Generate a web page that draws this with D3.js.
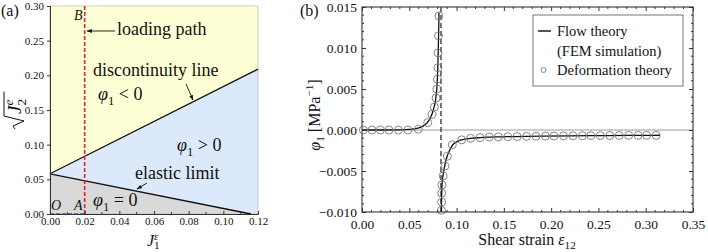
<!DOCTYPE html>
<html><head><meta charset="utf-8">
<script src="https://cdn.jsdelivr.net/npm/d3@7"></script>
<style>body{margin:0;background:#fff}svg{display:block}svg, svg text{font-family:"Liberation Serif","DejaVu Serif",serif !important;fill:#111}</style>
</head><body><svg id="c" width="708" height="252" font-family="Liberation Serif, DejaVu Serif, serif"></svg>
<script>
// ---------- data: panel (a) ----------
const aXTicks = [0, 0.02, 0.04, 0.06, 0.08, 0.10, 0.12];
const aYTicks = [0, 0.05, 0.10, 0.15, 0.20, 0.25, 0.30];
const aXDomain = [0, 0.12];
const aYDomain = [0, 0.30];
const discontinuityLine = [[0, 0.058], [0.12, 0.209]];
const elasticLimit = [[0, 0.058], [0.116, 0]];
const pathOA = [[0, 0], [0.02, 0]];
const pathAB = [[0.02, 0], [0.02, 0.30]];

// ---------- data: panel (b) ----------
const bXTicks = [0, 0.05, 0.10, 0.15, 0.20, 0.25, 0.30, 0.35];
const bYTicks = [-0.010, -0.005, 0, 0.005, 0.010, 0.015];
const bXDomain = [0, 0.35];
const bYDomain = [-0.010, 0.015];
const asymptoteStrain = 0.0835;
const flowUpper = [[0,0],[0.02,0],[0.04,0.00002],[0.05,0.00007],[0.055,0.00013],[0.06,0.00025],[0.065,0.0005],[0.069,0.0009],[0.072,0.0014],[0.0745,0.0021],[0.0765,0.0029],[0.078,0.0038],[0.079,0.0049],[0.0797,0.0062],[0.0802,0.0078],[0.0806,0.0096],[0.081,0.0117],[0.0814,0.0143]];
const flowLower = [[0.0840,-0.0100],[0.0841,-0.0088],[0.0843,-0.0077],[0.0846,-0.0067],[0.0856,-0.0056],[0.0874,-0.0044],[0.0900,-0.0032],[0.0930,-0.0024],[0.0960,-0.0018],[0.1000,-0.00145],[0.1054,-0.0012],[0.115,-0.00102],[0.125,-0.00093],[0.14,-0.00085],[0.16,-0.0008],[0.19,-0.00075],[0.22,-0.00071],[0.26,-0.00068],[0.30,-0.00065],[0.315,-0.00064]];
const deformation = [[0.0015,0],[0.0105,0],[0.0195,0],[0.0285,0],[0.0385,0],[0.0485,0],[0.0595,0.0001],[0.0695,0.0009],[0.0740,0.0019],[0.0765,0.0028],[0.0783,0.0039],[0.0792,0.0050],[0.0798,0.0062],[0.0802,0.0076],[0.0805,0.0094],[0.0809,0.0115],[0.0813,0.0139],
 [0.0840,-0.0098],[0.0842,-0.0088],[0.0842,-0.0077],[0.0845,-0.0067],[0.0858,-0.0056],[0.0877,-0.0044],[0.0902,-0.0032],[0.0955,-0.0018],[0.1054,-0.0012],[0.1149,-0.00102],[0.1248,-0.00093],[0.1346,-0.00086],[0.1441,-0.00084],[0.1541,-0.00082],[0.164,-0.0008],[0.174,-0.00078],[0.184,-0.00076],[0.194,-0.00074],[0.203,-0.00073],[0.213,-0.00072],[0.223,-0.00071],[0.233,-0.0007],[0.242,-0.00069],[0.252,-0.00068],[0.262,-0.00068],[0.272,-0.00067],[0.282,-0.00066],[0.292,-0.00066],[0.301,-0.00065],[0.311,-0.00065]];

const svg = d3.select("#c");
const defs = svg.append("defs");
defs.append("marker").attr("id","arr").attr("viewBox","0 0 10 10").attr("refX",9).attr("refY",5)
  .attr("markerWidth",6).attr("markerHeight",6).attr("orient","auto")
  .append("path").attr("d","M0,1.5L10,5L0,8.5z").attr("fill","#111");

function rich(g, x, y, size, parts, anchor) {
  const t = g.append("text").attr("x", x).attr("y", y).attr("font-size", size).attr("text-anchor", anchor || "start");
  let shift = 0;
  parts.forEach(p => {
    const s = t.append("tspan").text(p.t);
    const target = p.sub ? size * (p.subShift || 0.28) : p.sup ? -size * (p.supShift || 0.42) : 0;
    s.attr("dy", target - shift); shift = target;
    if (p.sub || p.sup) s.attr("font-size", size * 0.7);
    if (p.i) s.attr("font-style", "italic");
    if (p.dx) s.attr("dx", p.dx);
  });
  return t;
}

// ================= panel (a) =================
const xA = d3.scaleLinear().domain(aXDomain).range([50, 258]);
const yA = d3.scaleLinear().domain(aYDomain).range([214, 6]);
const gA = svg.append("g");
const poly = pts => pts.map(p => [xA(p[0]), yA(p[1])].join(",")).join(" ");
const d0 = discontinuityLine, e0 = elasticLimit;
gA.append("polygon").attr("points", poly([d0[0], d0[1], [aXDomain[1], aYDomain[1]], [aXDomain[0], aYDomain[1]]])).attr("fill", "#ffffd6");
gA.append("polygon").attr("points", poly([d0[0], d0[1], [aXDomain[1], 0], e0[1]])).attr("fill", "#dce9fb");
gA.append("polygon").attr("points", poly([[0, 0], e0[0], e0[1]])).attr("fill", "#d9d9d9");
gA.append("rect").attr("x", xA(0)).attr("y", yA(0.30)).attr("width", xA(0.12) - xA(0)).attr("height", yA(0) - yA(0.30))
  .attr("fill", "none").attr("stroke", "#aaa").attr("stroke-width", 0.6);
const lineA = d3.line().x(d => xA(d[0])).y(d => yA(d[1]));
gA.append("path").attr("d", lineA(discontinuityLine)).attr("stroke", "#111").attr("stroke-width", 1.3).attr("fill", "none");
gA.append("path").attr("d", lineA(elasticLimit)).attr("stroke", "#111").attr("stroke-width", 1.3).attr("fill", "none");
gA.append("path").attr("d", lineA(pathAB)).attr("stroke", "#e8202e").attr("stroke-width", 1.6).attr("stroke-dasharray", "4,2").attr("fill", "none");
gA.append("path").attr("d", lineA(pathOA)).attr("stroke", "#e8202e").attr("stroke-width", 1.6).attr("stroke-dasharray", "4,2").attr("fill", "none");
// axes
const axAx = gA.append("g").attr("transform", `translate(0,${yA(0)})`)
  .call(d3.axisBottom(xA).tickValues(aXTicks).tickFormat(d3.format(".2f")).tickSize(-3).tickPadding(3));
const axAy = gA.append("g").attr("transform", `translate(${xA(0)},0)`)
  .call(d3.axisLeft(yA).tickValues(aYTicks).tickFormat(d3.format(".2f")).tickSize(3).tickPadding(3));
[axAx, axAy].forEach(a => { a.attr("font-family", null); a.selectAll("text").attr("font-size", 11).attr("fill", "#111");
  a.select(".domain").attr("stroke", "#333").attr("stroke-width", 1); a.selectAll(".tick line").attr("stroke", "#333"); });
gA.selectAll(".minA").data(d3.range(1, 12, 2).map(i => i * 0.01)).enter().append("line")
  .attr("x1", d => xA(d)).attr("x2", d => xA(d)).attr("y1", yA(0)).attr("y2", yA(0) - 2).attr("stroke", "#333");
// labels
gA.append("text").attr("x", 74).attr("y", 20).attr("font-size", 14).attr("font-style", "italic").attr("fill", "#e8202e").text("B");
gA.append("text").attr("x", 51).attr("y", 210).attr("font-size", 14).attr("font-style", "italic").attr("fill", "#e8202e").text("O");
gA.append("text").attr("x", 74).attr("y", 210).attr("font-size", 14).attr("font-style", "italic").attr("fill", "#e8202e").text("A");
gA.append("text").attr("x", 117).attr("y", 35).attr("font-size", 18).text("loading path");
gA.append("line").attr("x1", 115).attr("y1", 31).attr("x2", 87).attr("y2", 31).attr("stroke", "#111").attr("stroke-width", 0.9).attr("marker-end", "url(#arr)");
gA.append("text").attr("x", 93).attr("y", 76).attr("font-size", 18).text("discontinuity line");
gA.append("line").attr("x1", 186).attr("y1", 84).attr("x2", 193).attr("y2", 100).attr("stroke", "#111").attr("stroke-width", 0.9).attr("marker-end", "url(#arr)");
rich(gA, 98, 100, 18, [{t: "φ", i: true}, {t: "1", sub: true}, {t: " < 0"}]);
rich(gA, 177, 151, 18, [{t: "φ", i: true}, {t: "1", sub: true}, {t: " > 0"}]);
gA.append("text").attr("x", 135).attr("y", 179).attr("font-size", 18).text("elastic limit");
gA.append("line").attr("x1", 147).attr("y1", 183).attr("x2", 137).attr("y2", 189).attr("stroke", "#111").attr("stroke-width", 0.9).attr("marker-end", "url(#arr)");
rich(gA, 93, 206, 18, [{t: "φ", i: true}, {t: "1", sub: true}, {t: " = 0"}]);
rich(gA, 147, 246, 16, [{t: "J", i: true}, {t: "1", sub: true, subShift: 0.18}, {t: "ε", sup: true, supShift: 0.36, i: true, dx: -5.6}]);
// y label  sqrt(J2^e)
const gy = gA.append("g").attr("transform", "translate(21,104) rotate(-90)");
const jt = rich(gy, -10, 0, 19, [{t: "J", i: true}, {t: "2", sub: true}, {t: "e", sup: true, i: true, dx: -6.6}]);
const jw = jt.node().getComputedTextLength();
const ex = -10 + jw - 6.6 + 8;
gy.append("path").attr("d", `M-25,-6 L-22,-8 L-17,3 L-12,-17 L${ex},-17`).attr("stroke", "#111").attr("stroke-width", 1).attr("fill", "none");
svg.append("text").attr("x", 1).attr("y", 16).attr("font-size", 16).text("(a)");

// ================= panel (b) =================
const xB = d3.scaleLinear().domain(bXDomain).range([362, 693]);
const yB = d3.scaleLinear().domain(bYDomain).range([212, 7]);
const gB = svg.append("g");
gB.append("line").attr("x1", xB(0)).attr("x2", xB(0.35)).attr("y1", yB(0)).attr("y2", yB(0)).attr("stroke", "#9a9a9a").attr("stroke-width", 1);
gB.append("line").attr("x1", xB(asymptoteStrain)).attr("x2", xB(asymptoteStrain)).attr("y1", yB(0.015)).attr("y2", yB(-0.010))
  .attr("stroke", "#555").attr("stroke-width", 1.6).attr("stroke-dasharray", "5,3");
const lineB = d3.line().x(d => xB(d[0])).y(d => yB(d[1])).curve(d3.curveMonotoneX);
gB.append("path").attr("d", lineB(flowUpper)).attr("stroke", "#111").attr("stroke-width", 1.3).attr("fill", "none");
gB.append("path").attr("d", lineB(flowLower)).attr("stroke", "#111").attr("stroke-width", 1.3).attr("fill", "none");
gB.selectAll(".pt").data(deformation).enter().append("circle")
  .attr("cx", d => xB(d[0])).attr("cy", d => yB(d[1])).attr("r", 4)
  .attr("fill", "none").attr("stroke", "#777").attr("stroke-width", 0.9);
// frame & ticks
gB.append("rect").attr("x", xB(0)).attr("y", yB(0.015)).attr("width", xB(0.35) - xB(0)).attr("height", yB(-0.010) - yB(0.015))
  .attr("fill", "none").attr("stroke", "#444").attr("stroke-width", 1.2);
const axBx = gB.append("g").attr("transform", `translate(0,${yB(-0.010)})`)
  .call(d3.axisBottom(xB).tickValues(bXTicks).tickFormat(d3.format(".2f")).tickSize(-4).tickPadding(7));
const axBy = gB.append("g").attr("transform", `translate(${xB(0)},0)`)
  .call(d3.axisLeft(yB).tickValues(bYTicks).tickFormat(d3.format(".3f")).tickSize(-4).tickPadding(5));
const axBt = gB.append("g").attr("transform", `translate(0,${yB(0.015)})`)
  .call(d3.axisTop(xB).tickValues(bXTicks).tickFormat("").tickSize(-4));
const axBr = gB.append("g").attr("transform", `translate(${xB(0.35)},0)`)
  .call(d3.axisRight(yB).tickValues(bYTicks).tickFormat("").tickSize(-4));
[axBx, axBy, axBt, axBr].forEach(a => { a.attr("font-family", null); a.selectAll("text").attr("font-size", 13.5).attr("fill", "#111");
  a.select(".domain").remove(); a.selectAll(".tick line").attr("stroke", "#333"); });
const minorX = d3.range(0, 36).filter(i => i % 5 !== 0).map(i => i * 0.01);
gB.selectAll(".mb").data(minorX).enter().append("line").attr("x1", d => xB(d)).attr("x2", d => xB(d))
  .attr("y1", yB(-0.010)).attr("y2", yB(-0.010) - 2).attr("stroke", "#333");
gB.selectAll(".mt").data(minorX).enter().append("line").attr("x1", d => xB(d)).attr("x2", d => xB(d))
  .attr("y1", yB(0.015)).attr("y2", yB(0.015) + 2).attr("stroke", "#333");
const minorY = d3.range(-10, 16).filter(i => i % 5 !== 0).map(i => i * 0.001);
gB.selectAll(".mr").data(minorY).enter().append("line").attr("x1", xB(0.35)).attr("x2", xB(0.35) - 2)
  .attr("y1", d => yB(d)).attr("y2", d => yB(d)).attr("stroke", "#333");
gB.selectAll(".ml").data(minorY).enter().append("line").attr("x1", xB(0)).attr("x2", xB(0) + 2)
  .attr("y1", d => yB(d)).attr("y2", d => yB(d)).attr("stroke", "#333");
// legend
const lg = gB.append("g");
lg.append("rect").attr("x", 533).attr("y", 15).attr("width", 150).attr("height", 71).attr("fill", "#fff").attr("stroke", "#777").attr("stroke-width", 1);
lg.append("line").attr("x1", 538).attr("x2", 551).attr("y1", 31).attr("y2", 31).attr("stroke", "#555").attr("stroke-width", 2);
lg.append("text").attr("x", 557).attr("y", 36).attr("font-size", 14.5).text("Flow theory");
lg.append("text").attr("x", 557).attr("y", 56).attr("font-size", 14.5).text("(FEM simulation)");
lg.append("circle").attr("cx", 543.5).attr("cy", 70).attr("r", 2.5).attr("fill", "none").attr("stroke", "#777").attr("stroke-width", 0.9);
lg.append("text").attr("x", 557).attr("y", 75).attr("font-size", 14.5).text("Deformation theory");
// axis labels
rich(gB, 527, 245, 16, [{t: "Shear strain "}, {t: "ε", i: true}, {t: "12", sub: true}], "middle");
const gyb = svg.append("g").attr("transform", "translate(320,115) rotate(-90)");
rich(gyb, 0, 0, 16, [{t: "φ", i: true}, {t: "1", sub: true}, {t: " [MPa"}, {t: "−1", sup: true}, {t: "]"}], "middle");
svg.append("text").attr("x", 300).attr("y", 16).attr("font-size", 16).text("(b)");
</script></body></html>
